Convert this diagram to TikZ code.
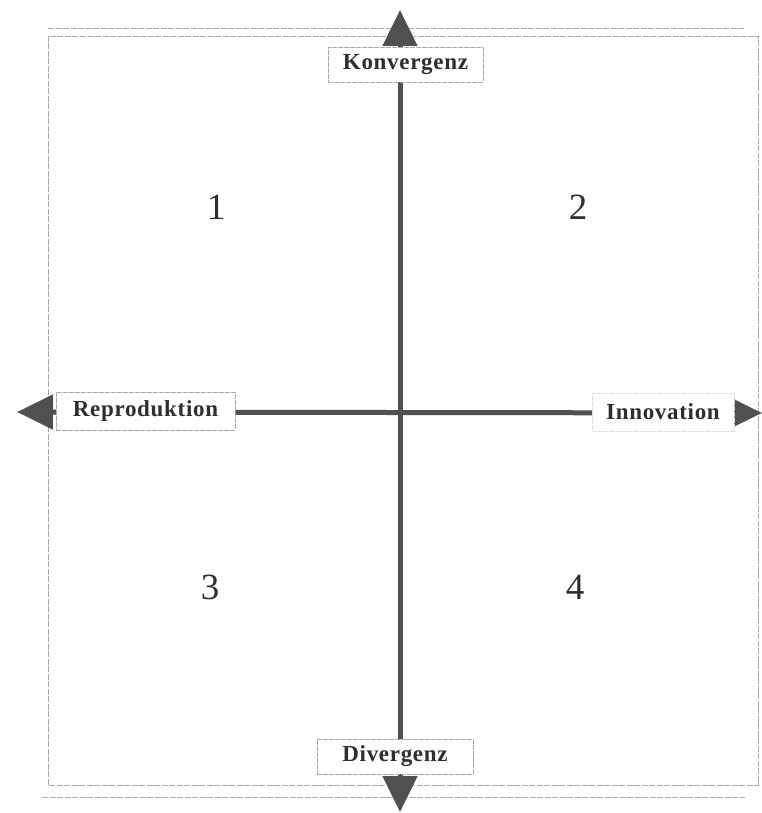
\documentclass[tikz,border=0pt]{standalone}
\usepackage{fontspec}
\setmainfont{Liberation Serif}
\usetikzlibrary{arrows.meta}
\definecolor{axisgray}{HTML}{505050}
\definecolor{framegray}{HTML}{A8A8A8}
\definecolor{textgray}{HTML}{2E2E2E}
\tikzset{
  axisline/.style={draw=axisgray, line width=5pt,
    {Triangle[width=34pt,length=36pt]}-{Triangle[width=34pt,length=36pt]}, fill=axisgray},
  framerule/.style={draw=framegray, line width=0.8pt, dash pattern=on 6pt off 1.5pt},
  axislabel/.style={draw=framegray, line width=0.7pt, dash pattern=on 5pt off 1pt, fill=white,
    text=textgray, font=\fontsize{23}{26}\selectfont\bfseries\addfontfeature{LetterSpace=3},
    inner sep=0pt, minimum height=35pt},
  quadnum/.style={text=textgray, font=\fontsize{37}{40}\selectfont, inner sep=0pt}
}
\begin{document}
\begin{tikzpicture}[x=1pt,y=-1pt]
\useasboundingbox (0,0) rectangle (762,813);
% frame
\draw[framerule] (48,36) rectangle (758,785);
\draw[framerule] (48,28) -- (745,28);
\draw[framerule] (42,797) -- (745,797);
% arrow tip ends
\coordinate (tipT) at (400,10);
\coordinate (tipB) at (400,812);
\coordinate (tipL) at (17,412);
\coordinate (tipR) at (762,413);
\draw[axisline] (tipB) -- (tipT);
\draw[axisline] (tipL) -- (tipR);
% labels
\node[axislabel, minimum width=155pt] (konv) at (405.5,64.5) {Konvergenz};
\node[axislabel, minimum width=156pt] (div) at (395,756.5) {Divergenz};
\node[axislabel, minimum width=179pt, minimum height=38pt] (repro) at (145.5,411) {Reproduktion};
\node[axislabel, draw=framegray!40, minimum width=142pt, minimum height=38pt] (inno) at (663,412) {Innovation};
% quadrant numbers
\node[quadnum] (q1) at (216,207) {1};
\node[quadnum] (q2) at (578,207) {2};
\node[quadnum] (q3) at (210,587) {3};
\node[quadnum] (q4) at (575,587) {4};
\end{tikzpicture}
\end{document}
